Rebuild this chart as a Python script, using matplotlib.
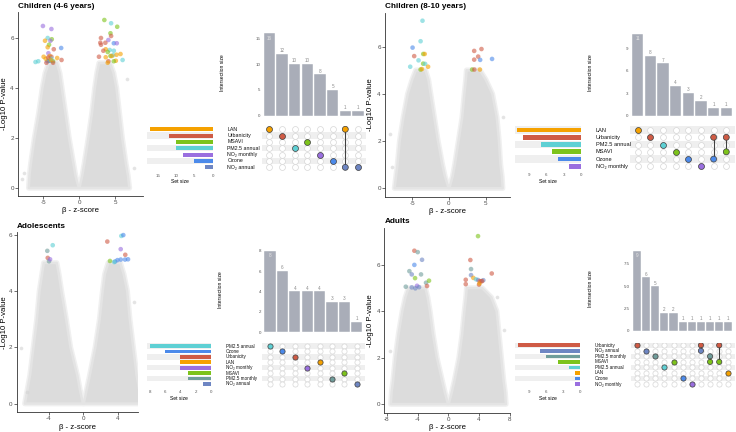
import matplotlib
matplotlib.use('Agg')
import matplotlib.pyplot as plt
import matplotlib.transforms as mtrans

plt.rcParams['font.family'] = ['Liberation Sans', 'DejaVu Sans']
plt.rcParams['axes.unicode_minus'] = False

W, H = 736, 432
fig = plt.figure(figsize=(W / 100, H / 100), dpi=100)

# ---------------- colours per exposure ----------------
SET_COLORS = {
    "LAN": "#F5A100", "Urbanicity": "#CF5B45", "MSAVI": "#7DC31B",
    "PM2.5 annual": "#5ED0D4", "NO2 monthly": "#9A6FDF", "Ozone": "#4C8AEA",
    "NO2 annual": "#6E86C3", "PM2.5 monthly": "#709D9B",
}
SET_LABELS = {"NO2 monthly": "NO\u2082 monthly", "NO2 annual": "NO\u2082 annual"}

# ---------------- panel titles ----------------
titles = ["Children (4-6 years)", "Children (8-10 years)", "Adolescents", "Adults"]

# ---------------- volcano: significant CpGs ----------------
tl_x = [-5.03, -3.85, -4.37, -3.80, -4.74, -3.99, -4.18, -4.37, -3.52, -2.49,
        -4.27, -4.93, -4.08, -3.85, -3.05, -2.44, -6.06, -5.68, -4.23, -4.41,
        -4.04, -3.62, -4.55, -3.62, -4.65, -3.85, -4.30, -3.95,
        3.52, 4.46, 5.31, 4.37, 4.46, 3.05, 4.08, 2.96, 3.66, 3.05,
        4.84, 5.25, 4.27, 3.71, 3.38, 3.99, 4.84, 2.77, 3.71, 4.37,
        4.74, 5.21, 5.77, 6.06, 4.08, 3.99, 5.12, 4.84, 4.55]
tl_y = [6.48, 6.36, 6.00, 5.95, 5.89, 5.89, 5.73, 5.63, 5.55, 5.60,
        5.39, 5.25, 5.28, 5.25, 5.20, 5.12, 5.04, 5.07, 5.09, 5.07,
        5.09, 5.07, 5.01, 5.01, 5.17, 5.17, 5.22, 5.12,
        6.72, 6.59, 6.45, 6.19, 6.08, 6.00, 5.92, 5.81, 5.81, 5.73,
        5.79, 5.79, 5.52, 5.55, 5.49, 5.44, 5.49, 5.25, 5.23, 5.28,
        5.31, 5.33, 5.36, 5.12, 5.07, 5.01, 5.09, 5.07, 5.28]
tl_set = ["NO2 monthly", "NO2 monthly", "PM2.5 annual", "MSAVI", "LAN", "NO2 monthly", "MSAVI", "LAN", "Urbanicity", "Ozone",
          "NO2 monthly", "LAN", "LAN", "Urbanicity", "LAN", "Urbanicity", "PM2.5 annual", "PM2.5 annual", "MSAVI", "Ozone",
          "Ozone", "MSAVI", "Urbanicity", "Urbanicity", "LAN", "PM2.5 annual", "Urbanicity", "LAN",
          "MSAVI", "PM2.5 annual", "MSAVI", "MSAVI", "Urbanicity", "Urbanicity", "NO2 monthly", "Urbanicity", "Urbanicity", "Urbanicity",
          "Ozone", "NO2 monthly", "PM2.5 annual", "LAN", "Urbanicity", "MSAVI", "PM2.5 annual", "Urbanicity", "LAN", "MSAVI",
          "PM2.5 annual", "LAN", "LAN", "PM2.5 annual", "Urbanicity", "LAN", "LAN", "MSAVI", "LAN"]

tr_x = [-3.60, -3.86, -4.95, -4.73, -3.50, -3.30, -4.14, -3.51, -3.24, -5.27, -2.84, -3.86, -3.68,
        3.43, 4.42, 3.97, 3.43, 4.24, 5.86, 3.15, 3.45, 4.20]
tr_y = [7.10, 6.23, 5.96, 5.60, 5.69, 5.69, 5.42, 5.28, 5.27, 5.15, 5.15, 5.03, 5.05,
        5.82, 5.90, 5.58, 5.45, 5.44, 5.48, 5.03, 5.03, 5.03]
tr_set = ["PM2.5 annual", "PM2.5 annual", "Ozone", "Urbanicity", "MSAVI", "LAN", "PM2.5 annual", "MSAVI", "PM2.5 annual",
          "PM2.5 annual", "LAN", "MSAVI", "LAN",
          "Urbanicity", "Urbanicity", "Urbanicity", "Urbanicity", "Ozone", "Ozone", "MSAVI", "Urbanicity", "LAN"]

bl_x = [-3.56, -4.19, -4.14, -3.99, -3.87, 2.79, 4.42, 4.65, 4.35, 4.88, 3.69, 3.97, 4.35, 4.85, 5.20, 3.60, 3.10]
bl_y = [5.63, 5.43, 5.18, 5.06, 5.13, 5.76, 5.96, 5.99, 5.49, 5.29, 5.05, 5.10, 5.12, 5.12, 5.13, 5.03, 5.07]
bl_set = ["PM2.5 annual", "PM2.5 monthly", "Urbanicity", "PM2.5 monthly", "NO2 monthly", "Urbanicity", "PM2.5 annual",
          "Ozone", "NO2 monthly", "Urbanicity", "Ozone", "Ozone", "Ozone", "Ozone", "Ozone", "PM2.5 annual", "MSAVI"]

br_x = [-4.43, -3.99, -3.43, -4.43, -5.08, -4.77, -3.56, -4.34, -2.91, -2.52, -5.55, -4.77, -4.08, -3.82, -2.78, -4.30,
        3.87, 2.87, 2.96, 2.96, 5.66, 2.27, 2.27, 3.26, 3.60, 3.87, 4.10, 4.30, 4.00, 4.06, 4.56, 4.40]
br_y = [6.61, 6.55, 6.22, 6.00, 5.73, 5.59, 5.59, 5.43, 5.23, 5.32, 5.06, 5.03, 5.10, 5.04, 5.09, 4.99,
        7.24, 6.21, 5.82, 5.56, 5.63, 5.36, 5.17, 5.44, 5.38, 5.35, 5.30, 5.30, 5.15, 5.20, 5.34, 5.30]
br_set = ["Urbanicity", "PM2.5 monthly", "NO2 annual", "Ozone", "PM2.5 monthly", "NO2 annual", "PM2.5 monthly", "MSAVI",
          "PM2.5 monthly", "MSAVI", "PM2.5 monthly", "NO2 annual", "NO2 monthly", "NO2 annual", "Urbanicity", "NO2 annual",
          "MSAVI", "Urbanicity", "PM2.5 monthly", "NO2 annual", "Urbanicity", "Urbanicity", "Urbanicity", "LAN",
          "PM2.5 annual", "NO2 annual", "Urbanicity", "Urbanicity", "Urbanicity", "LAN", "NO2 annual", "Urbanicity"]

# ---------------- volcano: envelope of the grey (non-significant) cloud ----------------
cloud_y = [0.0, 0.5, 1.0, 2.0, 3.0, 4.0, 4.6, 5.0]
tl_lo = [-7.0, -6.9, -6.7, -6.2, -5.6, -5.1, -4.7, -4.2]
tl_li = [-0.05, -0.5, -0.8, -1.4, -1.9, -2.4, -2.7, -3.1]
tl_ri = [0.05, 0.45, 0.75, 1.3, 1.8, 2.2, 2.5, 2.8]
tl_ro = [7.0, 6.8, 6.5, 6.0, 5.6, 5.2, 4.8, 4.3]
tr_lo = [-7.4, -7.2, -7.0, -6.7, -6.2, -5.6, -5.0, -4.5]
tr_li = [-0.05, -0.55, -0.9, -1.5, -2.0, -2.5, -2.8, -3.2]
tr_ri = [0.05, 0.5, 0.8, 1.3, 1.8, 2.1, 2.3, 2.4]
tr_ro = [7.3, 7.2, 7.0, 6.8, 6.5, 5.9, 5.0, 4.2]
bl_lo = [-6.8, -6.5, -6.2, -5.8, -5.4, -5.1, -4.8, -4.6]
bl_li = [-0.05, -0.4, -0.7, -1.5, -2.0, -2.55, -2.85, -3.1]
bl_ri = [0.05, 0.4, 0.75, 1.4, 1.9, 2.25, 2.5, 2.9]
bl_ro = [6.8, 6.5, 6.2, 5.8, 5.4, 5.1, 4.7, 4.3]
br_lo = [-7.5, -7.4, -7.2, -6.9, -6.5, -6.0, -5.6, -5.2]
br_li = [-0.05, -0.45, -0.8, -1.5, -2.0, -2.4, -2.7, -3.0]
br_ri = [0.05, 0.45, 0.8, 1.4, 1.8, 2.1, 2.3, 2.4]
br_ro = [7.5, 7.4, 7.2, 6.9, 6.6, 6.3, 5.6, 4.4]

tl_out_x = [-7.9, -7.6, 6.7, 7.6]
tl_out_y = [0.35, 0.6, 4.35, 0.8]
tr_out_x = [-8.0, 7.4, -7.8]
tr_out_y = [2.3, 3.0, 0.9]
bl_out_x = [-7.2, -6.6, 5.9]
bl_out_y = [1.98, 0.4, 3.6]
br_out_x = [-7.6, 6.3, 7.2]
br_out_y = [2.3, 4.6, 3.2]

# ---------------- UpSet data ----------------
tl_sets = ["LAN", "Urbanicity", "MSAVI", "PM2.5 annual", "NO2 monthly", "Ozone", "NO2 annual"]
tl_set_sizes = [17, 12, 10, 10, 8, 5, 2]
tl_inter = [16, 12, 10, 10, 8, 5, 1, 1]
tl_members = [["LAN"], ["Urbanicity"], ["PM2.5 annual"], ["MSAVI"], ["NO2 monthly"], ["Ozone"],
              ["LAN", "NO2 annual"], ["NO2 annual"]]

tr_sets = ["LAN", "Urbanicity", "PM2.5 annual", "MSAVI", "Ozone", "NO2 monthly"]
tr_set_sizes = [11, 10, 7, 5, 4, 2]
tr_inter = [11, 8, 7, 4, 3, 2, 1, 1]
tr_members = [["LAN"], ["Urbanicity"], ["PM2.5 annual"], ["MSAVI"], ["Ozone"], ["NO2 monthly"],
              ["Urbanicity", "Ozone"], ["Urbanicity", "MSAVI"]]

bl_sets = ["PM2.5 annual", "Ozone", "Urbanicity", "LAN", "NO2 monthly", "MSAVI", "PM2.5 monthly", "NO2 annual"]
bl_set_sizes = [8, 6, 4, 4, 4, 3, 3, 1]
bl_inter = [8, 6, 4, 4, 4, 3, 3, 1]
bl_members = [["PM2.5 annual"], ["Ozone"], ["Urbanicity"], ["NO2 monthly"], ["LAN"], ["PM2.5 monthly"],
              ["MSAVI"], ["NO2 annual"]]

br_sets = ["Urbanicity", "NO2 annual", "PM2.5 monthly", "MSAVI", "PM2.5 annual", "LAN", "Ozone", "NO2 monthly"]
br_set_sizes = [11, 7, 6, 4, 2, 1, 1, 1]
br_inter = [9, 6, 5, 2, 2, 1, 1, 1, 1, 1, 1]
br_members = [["Urbanicity"], ["NO2 annual"], ["PM2.5 monthly"], ["PM2.5 annual"], ["MSAVI"], ["Ozone"],
              ["NO2 monthly"], ["Urbanicity", "NO2 annual"], ["PM2.5 monthly", "MSAVI"],
              ["Urbanicity", "MSAVI"], ["LAN"]]

tl_bar_ticks = [0, 5, 10, 15]
tr_bar_ticks = [0, 3, 6, 9]
bl_bar_ticks = [0, 2, 4, 6, 8]
br_bar_ticks = [0, 2.5, 5.0, 7.5]
tl_size_ticks = [15, 10, 5, 0]
tr_size_ticks = [9, 6, 3, 0]
bl_size_ticks = [8, 6, 4, 2, 0]
br_size_ticks = [9, 6, 3, 0]


def rect(x0, y0, x1, y1):
    return [x0 / W, 1 - y1 / H, (x1 - x0) / W, (y1 - y0) / H]


def draw_volcano(box, xlim, ylim, xticks, yticks, lo, li, ri, ro, ox, oy, sx, sy, sset, title, ylab_px):
    ax = fig.add_axes(rect(*box))
    for xa, xb in ((lo, li), (ri, ro)):
        xs = list(xa) + list(xb)[::-1]
        ys = list(cloud_y) + list(cloud_y)[::-1]
        ax.fill(xs, ys, fc='none', ec='#f0f0f0', lw=4, joinstyle='round', zorder=1)
        ax.fill(xs, ys, fc='#dcdcdc', ec='#e4e4e4', lw=1.8, joinstyle='round', zorder=1.1)
    ax.scatter(ox, oy, s=7, color='#d3d3d3', alpha=0.6, lw=0, zorder=1.2)
    ax.scatter(sx, sy, s=11, c=[SET_COLORS[k] for k in sset], alpha=0.6, lw=0, zorder=3)
    ax.set_xlim(*xlim)
    ax.set_ylim(*ylim)
    ax.set_xticks(xticks)
    ax.set_xticklabels([str(t) for t in xticks])
    ax.set_yticks(yticks)
    ax.set_yticklabels([str(t) for t in yticks])
    for s in ('top', 'right'):
        ax.spines[s].set_visible(False)
    for s in ('left', 'bottom'):
        ax.spines[s].set_color('#333333')
        ax.spines[s].set_linewidth(0.6)
    ax.tick_params(length=2, width=0.5, color='#333333', labelsize=4.5, labelcolor='#4d4d4d', pad=1)
    ax.set_ylabel('-Log10 P-value', fontsize=5.6)
    ax.yaxis.set_label_coords((ylab_px - box[0]) / (box[2] - box[0]), 0.5)
    ax.set_xlabel('β - z-score', fontsize=5.6, labelpad=1.5)
    fig.text(box[0] / W, 1 - (box[1] - 6) / H, title, fontsize=5.9, fontweight='bold',
             ha='left', va='center')
    return ax


def draw_upset(sets, set_sizes, inter, members, L):
    ncol, nrow = len(inter), len(sets)
    bar_c = '#a9adb8'
    # intersection bars
    axb = fig.add_axes(rect(L['cx0'], L['by0'], L['cx1'], L['by1']))
    axb.bar(range(ncol), inter, width=0.9, color=bar_c, ec='white', lw=0.3)
    axb.set_xlim(-0.5, ncol - 0.5)
    axb.set_ylim(0, L['ymax'])
    for sp in axb.spines.values():
        sp.set_visible(False)
    axb.set_xticks([])
    axb.set_yticks(L['bticks'])
    axb.set_yticklabels([str(t) for t in L['bticks']])
    axb.tick_params(axis='y', length=0, labelsize=3.2, labelcolor='#555555', pad=2)
    vmax = max(inter)
    for i, v in enumerate(inter):
        if v == vmax:
            axb.text(i, v - vmax * 0.03, str(v), ha='center', va='top', fontsize=3.3, color='#e6e6e6')
        else:
            axb.text(i, v + vmax * 0.01, str(v), ha='center', va='bottom', fontsize=3.3, color='#8c8c8c')
    fig.text(L['ilx'] / W, 1 - (L['by0'] + L['by1']) / 2 / H, 'Intersection size', rotation=90,
             ha='center', va='center', fontsize=3.6)
    # matrix
    axm = fig.add_axes(rect(L['cx0'] - 1.5, L['my0'], L['cx1'] + 2, L['my1']))
    pxw = (L['cx1'] - L['cx0']) / ncol
    axm.set_xlim(-0.5 - 1.5 / pxw, ncol - 0.5 + 2 / pxw)
    axm.set_ylim(nrow - 0.5, -0.5)
    axm.axis('off')
    for r in range(nrow):
        if (nrow - 1 - r) % 2 == 1:
            axm.axhspan(r - 0.5, r + 0.5, color='#efefef', lw=0, zorder=0)
    gx = [c for c in range(ncol) for r in range(nrow)]
    gy = [r for c in range(ncol) for r in range(nrow)]
    axm.scatter(gx, gy, s=L['dot'], fc='white', ec='#d6d6d6', lw=0.5, zorder=2)
    for c, mem in enumerate(members):
        rows = [sets.index(m) for m in mem]
        if len(rows) > 1:
            axm.plot([c, c], [min(rows), max(rows)], color='#404040', lw=0.8, zorder=3)
        axm.scatter([c] * len(rows), rows, s=L['dot'], c=[SET_COLORS[m] for m in mem],
                    ec='#404040', lw=0.5, zorder=4)
    trans = mtrans.blended_transform_factory(fig.transFigure, axm.transData)
    for r, s in enumerate(sets):
        axm.text(L['lx'] / W, r, SET_LABELS.get(s, s), transform=trans, ha='left', va='center',
                 fontsize=L['lfs'], color='#111111')
    # set sizes
    axs = fig.add_axes(rect(L['sx0'], L['my0'], L['sx1'], L['my1']))
    for r in range(nrow):
        if (nrow - 1 - r) % 2 == 1:
            axs.axhspan(r - 0.5, r + 0.5, color='#efefef', lw=0, zorder=0)
    axs.barh(range(nrow), set_sizes, height=0.66, color=[SET_COLORS[s] for s in sets], zorder=2)
    axs.set_xlim(L['smax'], 0)
    axs.set_ylim(nrow - 0.5, -0.5)
    for sp in axs.spines.values():
        sp.set_visible(False)
    axs.set_yticks([])
    axs.set_xticks(L['sticks'])
    axs.set_xticklabels([str(t) for t in L['sticks']])
    axs.tick_params(axis='x', length=0, labelsize=3.2, labelcolor='#555555', pad=2.5)
    axs.set_xlabel('Set size', fontsize=3.6, labelpad=1)


# ---------------- volcano panels ----------------
draw_volcano((18, 12, 143, 196), (-8.5, 8.9), (-0.32, 7.04), [-5, 0, 5], [0, 2, 4, 6],
             tl_lo, tl_li, tl_ri, tl_ro, tl_out_x, tl_out_y, tl_x, tl_y, tl_set, titles[0], 8.5)
draw_volcano((385, 12.7, 510, 196.7), (-8.7, 8.3), (-0.36, 7.44), [-5, 0, 5], [0, 2, 4, 6],
             tr_lo, tr_li, tr_ri, tr_ro, tr_out_x, tr_out_y, tr_x, tr_y, tr_set, titles[1], 373.5)
draw_volcano((16.7, 232, 138, 412.3), (-7.75, 6.36), (-0.31, 6.1), [-4, 0, 4], [0, 2, 4, 6],
             bl_lo, bl_li, bl_ri, bl_ro, bl_out_x, bl_out_y, bl_x, bl_y, bl_set, titles[2], 8.5)
draw_volcano((384.3, 228, 510, 412.7), (-8.35, 8.04), (-0.37, 7.59), [-8, -4, 0, 4, 8], [0, 2, 4, 6],
             br_lo, br_li, br_ri, br_ro, br_out_x, br_out_y, br_x, br_y, br_set, titles[3], 374.5)

# ---------------- UpSet panels ----------------
draw_upset(tl_sets, tl_set_sizes, tl_inter, tl_members,
           dict(cx0=263, cx1=364.3, by0=30, by1=115.7, ymax=16.6, bticks=tl_bar_ticks,
                my0=126.1, my1=170.5, sx0=146.7, sx1=212.7, smax=18.0, sticks=tl_size_ticks,
                lx=227.3, ilx=223, dot=18, lfs=3.8))
draw_upset(tr_sets, tr_set_sizes, tr_inter, tr_members,
           dict(cx0=631.4, cx1=732.6, by0=29.8, by1=115.7, ymax=11.5, bticks=tr_bar_ticks,
                my0=126.4, my1=170, sx0=515, sx1=581, smax=11.42, sticks=tr_size_ticks,
                lx=595.7, ilx=591, dot=18, lfs=4.1))
draw_upset(bl_sets, bl_set_sizes, bl_inter, bl_members,
           dict(cx0=263.8, cx1=362.9, by0=247.6, by1=332.3, ymax=8.3, bticks=bl_bar_ticks,
                my0=343.3, my1=386.7, sx0=146.7, sx1=211, smax=8.38, sticks=bl_size_ticks,
                lx=226, ilx=221, dot=14, lfs=3.3))
draw_upset(br_sets, br_set_sizes, br_inter, br_members,
           dict(cx0=632.4, cx1=732.9, by0=247, by1=331, ymax=9.4, bticks=br_bar_ticks,
                my0=342.5, my1=386.8, sx0=515, sx1=580.3, smax=11.46, sticks=br_size_ticks,
                lx=595, ilx=590, dot=14, lfs=3.3))

fig.savefig('out.png', dpi=100)
